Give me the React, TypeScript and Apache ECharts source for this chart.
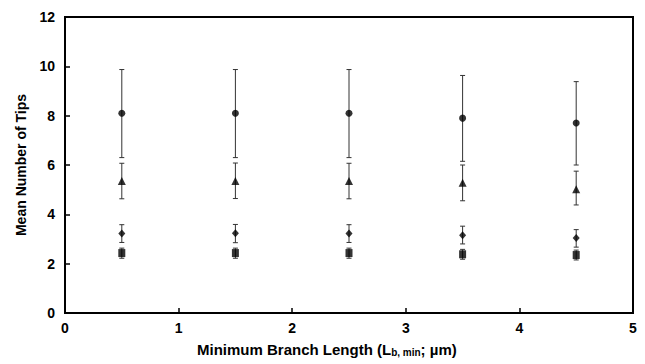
import React, { useEffect, useRef } from "react";
import * as echarts from "echarts";

const xValues = [0.5, 1.5, 2.5, 3.5, 4.5];

const circleMean = [8.1, 8.1, 8.1, 7.9, 7.7];
const circleUpper = [9.87, 9.87, 9.87, 9.63, 9.38];
const circleLower = [6.3, 6.3, 6.3, 6.15, 6.0];

const triangleMean = [5.35, 5.35, 5.35, 5.28, 5.02];
const triangleUpper = [6.07, 6.08, 6.07, 6.0, 5.75];
const triangleLower = [4.63, 4.64, 4.63, 4.55, 4.38];

const diamondMean = [3.22, 3.23, 3.22, 3.15, 3.04];
const diamondUpper = [3.58, 3.59, 3.58, 3.52, 3.38];
const diamondLower = [2.86, 2.85, 2.86, 2.8, 2.67];

const squareMean = [2.43, 2.43, 2.43, 2.38, 2.35];
const squareUpper = [2.63, 2.63, 2.63, 2.58, 2.55];
const squareLower = [2.22, 2.22, 2.22, 2.18, 2.15];

const FONT = "'Liberation Sans', Arial, sans-serif";

function errorSeries(lower: number[], upper: number[]) {
  return {
    type: "custom",
    silent: true,
    z: 1,
    data: xValues.map((x, i) => [x, lower[i], upper[i]]),
    renderItem: (params: any, api: any) => {
      const x = api.value(0);
      const lo = api.coord([x, api.value(1)]);
      const hi = api.coord([x, api.value(2)]);
      const w = 2.5;
      const style = { stroke: "#333", lineWidth: 1 };
      return {
        type: "group",
        children: [
          { type: "line", shape: { x1: lo[0], y1: lo[1], x2: hi[0], y2: hi[1] }, style },
          { type: "line", shape: { x1: lo[0] - w, y1: lo[1], x2: lo[0] + w, y2: lo[1] }, style },
          { type: "line", shape: { x1: hi[0] - w, y1: hi[1], x2: hi[0] + w, y2: hi[1] }, style },
        ],
      };
    },
  };
}

function markerSeries(mean: number[], symbol: string, size: number | number[]) {
  return {
    type: "scatter",
    z: 3,
    symbol,
    symbolSize: size,
    itemStyle: { color: "#000" },
    data: xValues.map((x, i) => [x, mean[i]]),
  };
}

export default function App() {
  const ref = useRef<HTMLDivElement>(null);
  useEffect(() => {
    if (!ref.current) return;
    const chart = echarts.init(ref.current, undefined, { renderer: "svg" });
    chart.setOption({
      animation: false,
      backgroundColor: "#fff",
      grid: {
        left: 65,
        right: 12,
        top: 17,
        bottom: 51,
        show: true,
        borderColor: "#000",
        borderWidth: 2,
      },
      xAxis: {
        type: "value",
        min: 0,
        max: 5,
        interval: 1,
        axisLine: { show: true, lineStyle: { color: "#000", width: 2 } },
        axisTick: { show: true, inside: true, length: 5, lineStyle: { color: "#000", width: 1.5 } },
        axisLabel: { color: "#000", fontFamily: FONT, fontWeight: "bold", fontSize: 14, margin: 8 },
        splitLine: { show: false },
      },
      yAxis: {
        type: "value",
        min: 0,
        max: 12,
        interval: 2,
        name: "Mean Number of Tips",
        nameLocation: "middle",
        nameGap: 37,
        nameTextStyle: { color: "#000", fontFamily: FONT, fontWeight: "bold", fontSize: 14 },
        axisLine: { show: true, lineStyle: { color: "#000", width: 2 } },
        axisTick: { show: true, inside: true, length: 5, lineStyle: { color: "#000", width: 1.5 } },
        axisLabel: { color: "#000", fontFamily: FONT, fontWeight: "bold", fontSize: 14, margin: 10 },
        splitLine: { show: false },
      },
      graphic: [
        {
          type: "text",
          left: 197,
          top: 342,
          style: {
            text: "{a|Minimum Branch Length (L}{s|b, min}{a|; µm)}",
            rich: {
              a: { fontFamily: FONT, fontWeight: "bold", fontSize: 15, fill: "#000", verticalAlign: "bottom", lineHeight: 18 },
              s: { fontFamily: FONT, fontWeight: "bold", fontSize: 10, fill: "#000", verticalAlign: "bottom", lineHeight: 14, padding: [4, 0, 0, 0] },
            },
          },
        },
      ],
      series: [
        errorSeries(circleLower, circleUpper),
        errorSeries(triangleLower, triangleUpper),
        errorSeries(diamondLower, diamondUpper),
        errorSeries(squareLower, squareUpper),
        markerSeries(circleMean, "circle", 7),
        markerSeries(triangleMean, "triangle", 8),
        markerSeries(diamondMean, "diamond", [7, 8]),
        markerSeries(squareMean, "rect", [7, 8]),
      ],
    });
    return () => chart.dispose();
  }, []);
  return (
    <div
      ref={ref}
      style={{ position: "fixed", left: 0, top: 0, width: 645, height: 364, background: "#fff" }}
    />
  );
}
